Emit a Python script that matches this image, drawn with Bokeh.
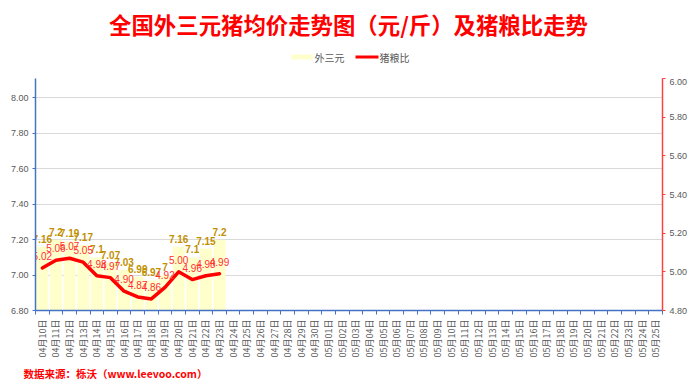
from bokeh.plotting import figure
from bokeh.layouts import column
from bokeh.models import (Range1d, LinearAxis, FixedTicker, NumeralTickFormatter,
                          ColumnDataSource)
from bokeh.core.properties import value
from bokeh.embed import file_html
from bokeh.resources import INLINE
import math

dates = ["04月10日", "04月11日", "04月12日", "04月13日", "04月14日", "04月15日", "04月16日",
         "04月17日", "04月18日", "04月19日", "04月20日", "04月21日", "04月22日", "04月23日",
         "04月24日", "04月25日", "04月26日", "04月27日", "04月28日", "04月29日", "04月30日",
         "05月01日", "05月02日", "05月03日", "05月04日", "05月05日", "05月06日", "05月07日",
         "05月08日", "05月09日", "05月10日", "05月11日", "05月12日", "05月13日", "05月14日",
         "05月15日", "05月16日", "05月17日", "05月18日", "05月19日", "05月20日", "05月21日",
         "05月22日", "05月23日", "05月24日", "05月25日"]
hog_price = [7.16, 7.2, 7.19, 7.17, 7.1, 7.07, 7.03, 6.99, 6.97, 7, 7.16, 7.1, 7.15, 7.2]
hog_grain_ratio = [5.02, 5.06, 5.07, 5.05, 4.98, 4.97, 4.90, 4.87, 4.86, 4.92, 5.00, 4.96, 4.98, 4.99]
left_ticks = [6.8, 7.0, 7.2, 7.4, 7.6, 7.8, 8.0]
right_ticks = [4.8, 5.0, 5.2, 5.4, 5.6, 5.8, 6.0]
title_text = "全国外三元猪均价走势图（元/斤）及猪粮比走势"
series_names = ["外三元", "猪粮比"]
source_text = "数据来源：栎沃（www.leevoo.com）"

CJK = "Noto Sans CJK SC"
NUM = "Liberation Sans"
GRAY = "#595959"
BAR_COLOR = "#FFFFCC"
LINE_COLOR = "#FF0000"

W = 700
TOP_H, MAIN_H, FOOT_H = 78, 282, 25


def blank(height):
    f = figure(width=W, height=height, output_backend="svg", toolbar_location=None,
               x_range=Range1d(0, W), y_range=Range1d(height, 0),
               x_axis_location=None, y_axis_location=None, title=None,
               min_border=0, min_border_left=0, min_border_right=0,
               min_border_top=0, min_border_bottom=0, frame_align=False)
    f.outline_line_color = None
    f.grid.visible = False
    return f


# ---------- header: title + legend ----------
top = blank(TOP_H)
top.text(x=[348], y=[23], text=[title_text], text_align="center", text_baseline="middle",
         text_font=value(CJK), text_font_size="22.4px", text_font_style="bold",
         text_color=LINE_COLOR)
top.quad(left=[291], right=[312], top=[54], bottom=[59], fill_color=BAR_COLOR, line_color=None)
top.text(x=[314], y=[56.5], text=[series_names[0]], text_align="left", text_baseline="middle",
         text_font=value(CJK), text_font_size="10px", text_color=GRAY)
top.segment(x0=[355], x1=[378], y0=[56.5], y1=[56.5], line_color=LINE_COLOR, line_width=3)
top.text(x=[379], y=[56.5], text=[series_names[1]], text_align="left", text_baseline="middle",
         text_font=value(CJK), text_font_size="10px", text_color=GRAY)

# ---------- main chart ----------
idx = list(range(len(dates)))
n = len(hog_price)
bar_src = ColumnDataSource(dict(x=idx[:n], top=hog_price,
                                lbl=[f"{v:g}" for v in hog_price]))
line_src = ColumnDataSource(dict(x=idx[:n], y=hog_grain_ratio,
                                 lbl=[f"{v:.2f}" for v in hog_grain_ratio]))

p = figure(width=W, height=MAIN_H, output_backend="svg", toolbar_location=None, title=None,
           x_range=Range1d(-0.5, len(dates) - 0.5), y_range=Range1d(6.8, 8.11),
           min_border_left=35, min_border_right=38, min_border_top=0, min_border_bottom=50,
           frame_align=False)
p.extra_y_ranges = {"ratio": Range1d(4.8, 6.0)}
p.outline_line_color = None
p.background_fill_color = "white"

xa = p.xaxis[0]
xa.ticker = FixedTicker(ticks=idx, minor_ticks=[i - 0.5 for i in range(len(dates) + 1)])
xa.major_label_overrides = {i: d for i, d in enumerate(dates)}
xa.major_label_orientation = math.pi / 2
xa.major_tick_out = 0
xa.major_tick_in = 0
xa.minor_tick_out = 4
xa.minor_tick_in = 0
xa.minor_tick_line_color = "#4472C4"
xa.axis_line_color = "#4472C4"
xa.axis_line_width = 1.5
xa.major_label_text_font = CJK
xa.major_label_text_font_size = "9px"
xa.major_label_text_color = GRAY
xa.major_label_standoff = 5

ya = p.yaxis[0]
ya.ticker = FixedTicker(ticks=left_ticks)
ya.formatter = NumeralTickFormatter(format="0.00")
ya.axis_line_color = "#4472C4"
ya.axis_line_width = 1.5
ya.major_tick_line_color = "#4472C4"
ya.major_tick_out = 3
ya.major_tick_in = 0
ya.minor_tick_out = 0
ya.minor_tick_in = 0
ya.major_label_text_font = NUM
ya.major_label_text_font_size = "9px"
ya.major_label_text_color = GRAY
ya.major_label_standoff = 4

ra = LinearAxis(y_range_name="ratio", ticker=FixedTicker(ticks=right_ticks),
                formatter=NumeralTickFormatter(format="0.00"))
ra.axis_line_color = "#FF4040"
ra.axis_line_width = 1.5
ra.major_tick_line_color = "#FF4040"
ra.major_tick_out = 3
ra.major_tick_in = 0
ra.minor_tick_out = 0
ra.minor_tick_in = 0
ra.major_label_text_font = NUM
ra.major_label_text_font_size = "9px"
ra.major_label_text_color = GRAY
ra.major_label_standoff = 4
p.add_layout(ra, "right")

p.xgrid.grid_line_color = None
p.ygrid.ticker = FixedTicker(ticks=left_ticks)
p.ygrid.grid_line_color = "#D9D9D9"
p.ygrid.grid_line_width = 1

p.vbar(x="x", top="top", bottom=6.8, width=0.88, source=bar_src,
       fill_color=BAR_COLOR, line_color=None)
p.text(x="x", y="top", text="lbl", source=bar_src, text_align="center",
       text_baseline="bottom", y_offset=-4, text_font=value(NUM),
       text_font_size="10px", text_font_style="bold", text_color="#BF9000")

p.line(x="x", y="y", source=line_src, y_range_name="ratio",
       line_color=LINE_COLOR, line_width=3.5, line_join="round", line_cap="round")
p.text(x="x", y="y", text="lbl", source=line_src, y_range_name="ratio",
       text_align="center", text_baseline="bottom", y_offset=-8,
       text_font=value(NUM), text_font_size="10px", text_color="#FF3030")

# ---------- footer ----------
foot = blank(FOOT_H)
foot.text(x=[23], y=[13], text=[source_text], text_align="left", text_baseline="middle",
          text_font=value(CJK), text_font_size="10.5px", text_font_style="bold",
          text_color=LINE_COLOR)

layout = column(top, p, foot, spacing=0)
open("out.html", "w").write(file_html(layout, INLINE))
